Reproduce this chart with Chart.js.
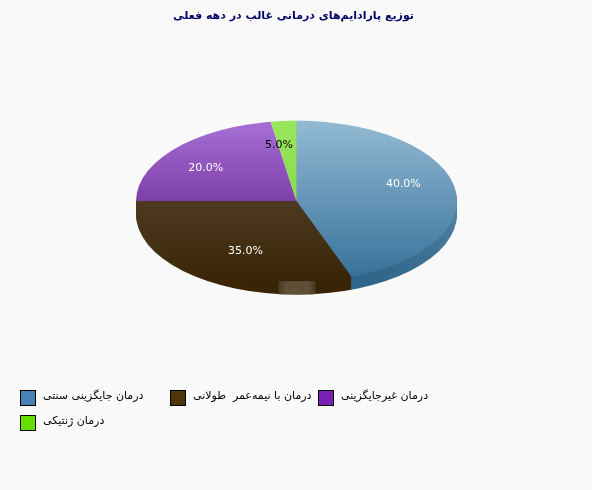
<!DOCTYPE html>
<html>
<head>
<meta charset="utf-8">
<script src="https://cdn.jsdelivr.net/npm/chart.js@4/dist/chart.umd.min.js"></script>
<style>
  html, body { margin: 0; padding: 0; background: #f9f9f9; }
  canvas { display: block; }
</style>
</head>
<body>
<canvas id="paradigms" width="592" height="490"></canvas>
<script>
const titleText = 'توزیع پارادایم‌های درمانی غالب در دهه فعلی';
const categories = ['درمان جایگزینی سنتی', 'درمان با نیمه‌عمر  طولانی', 'درمان غیرجایگزینی', 'درمان ژنتیکی'];
const shares = [40, 35, 20, 5];
const legendColors = ['#4682b4', '#4f3608', '#7a1fb5', '#66dd00'];
const sliceTop = ['#93bad3', '#64503c', '#a870d6', '#98e65c'];
const sliceBottom = ['#35709a', '#382404', '#520e7a', '#78d040'];
const wallTop = ['#7da3bb', '#64503c'];
const wallBottom = ['#2c6288', '#382404'];
const labelColors = ['#ffffff', '#ffffff', '#ffffff', '#000000'];

// the pie is an ellipse with screen-true angles, so arcs are drawn on a circle and clipped
const RX = 160.5, RY = 80.5, DEPTH = 13;
const FONT = '11px "DejaVu Sans"';

function ellipsePath(ctx, x, y) {
  ctx.beginPath();
  ctx.ellipse(x, y, RX, RY, 0, 0, Math.PI * 2);
}

function sliceFill(ctx, top, bottom, cy) {
  const g = ctx.createLinearGradient(0, cy - RY, 0, cy + RY);
  g.addColorStop(0, top);
  g.addColorStop(1, bottom);
  return g;
}

function drawArc(ctx, arc, fill, cy, dy) {
  ctx.save();
  ellipsePath(ctx, arc.x, cy + dy);
  ctx.clip();
  ctx.translate(0, dy);
  arc.options.backgroundColor = fill;
  arc.draw(ctx);
  ctx.restore();
}

const flatPie = {
  id: 'flatPie',
  afterLayout(chart) {
    // title sits a little left of the pie centre
    chart.titleBlock.left -= 3;
    chart.titleBlock.right -= 3;
  },
  beforeDatasetDraw(chart) {
    const ctx = chart.ctx;
    const arcs = chart.getDatasetMeta(0).data;
    const cy = arcs[0].y;
    // side wall: only the two slices facing the viewer
    for (let dy = DEPTH; dy > 0; dy--) {
      [0, 1].forEach(i => drawArc(ctx, arcs[i], sliceFill(ctx, wallTop[i], wallBottom[i], cy), cy, dy));
    }
    arcs.forEach((arc, i) => drawArc(ctx, arc, sliceFill(ctx, sliceTop[i], sliceBottom[i], cy), cy, 0));

    // pale tab at the front edge
    const cx = arcs[0].x;
    const tab = ctx.createLinearGradient(cx - 18, 0, cx + 19, 0);
    tab.addColorStop(0, '#4a3a22');
    tab.addColorStop(0.2, '#5f4e38');
    tab.addColorStop(0.8, '#5f4e38');
    tab.addColorStop(1, '#4a3a22');
    ctx.save();
    ellipsePath(ctx, cx, cy + DEPTH);
    ctx.clip();
    ctx.fillStyle = tab;
    ctx.fillRect(cx - 18, cy + 80, 37, 15);
    ctx.restore();

    // percent labels
    ctx.font = FONT;
    ctx.textAlign = 'center';
    ctx.textBaseline = 'middle';
    arcs.forEach((arc, i) => {
      const mid = (arc.startAngle + arc.endAngle) / 2;
      ctx.fillStyle = labelColors[i];
      ctx.fillText(shares[i].toFixed(1) + '%', arc.x + 0.7 * RX * Math.cos(mid), cy + 0.7 * RY * Math.sin(mid));
    });
    return false;
  },
  afterDraw(chart) {
    // legend in fixed columns, two rows
    const ctx = chart.ctx;
    const spots = [[20, 390], [170, 390], [318, 390], [20, 415]];
    ctx.save();
    ctx.font = FONT;
    ctx.textAlign = 'left';
    ctx.textBaseline = 'middle';
    categories.forEach((name, i) => {
      const [x, y] = spots[i];
      ctx.fillStyle = legendColors[i];
      ctx.fillRect(x, y, 15, 15);
      ctx.strokeStyle = '#000000';
      ctx.lineWidth = 1;
      ctx.strokeRect(x + 0.5, y + 0.5, 15, 15);
      ctx.fillStyle = '#000000';
      ctx.fillText(name, x + 23, y + 6);
    });
    ctx.restore();
  }
};

new Chart(document.getElementById('paradigms'), {
  type: 'pie',
  data: {
    labels: categories,
    datasets: [{
      data: shares,
      backgroundColor: legendColors,
      borderWidth: 0,
      radius: RX + 40
    }]
  },
  options: {
    responsive: false,
    animation: false,
    devicePixelRatio: 1,
    layout: { padding: { left: 1, bottom: 119 } },
    plugins: {
      legend: { display: false },
      tooltip: { enabled: false },
      title: {
        display: true,
        text: titleText,
        color: '#000066',
        font: { family: 'DejaVu Sans', size: 11, weight: 'bold' },
        padding: { top: 10, bottom: 8 }
      }
    }
  },
  plugins: [flatPie]
});
</script>
</body>
</html>
